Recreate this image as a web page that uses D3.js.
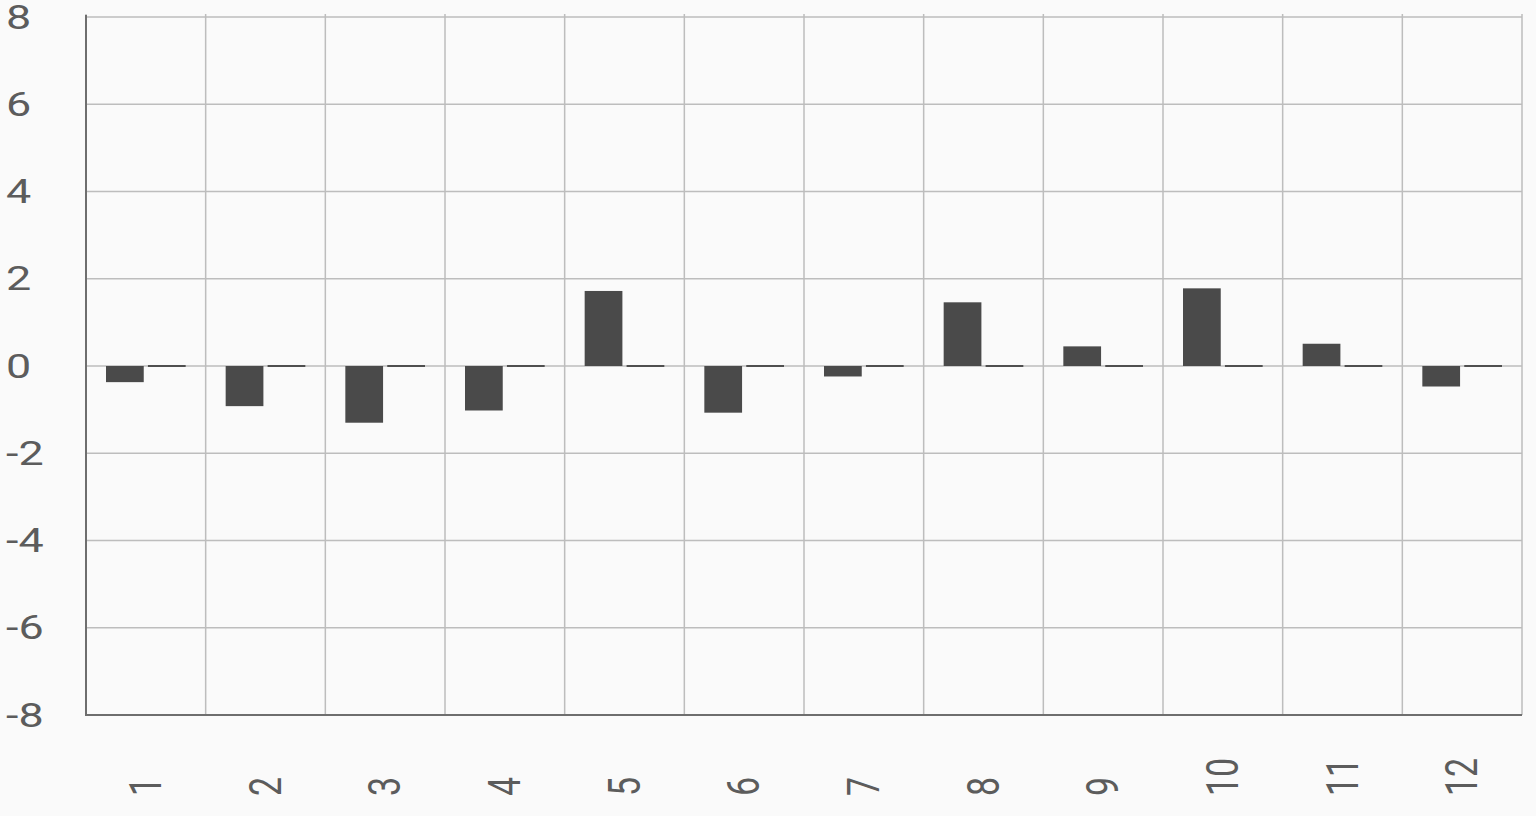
<!DOCTYPE html>
<html>
<head>
    <title>Bar chart</title>
    <script src="https://d3js.org/d3.v7.min.js"></script>
    <style>
        body { margin: 0; background: #fafafa; }
        svg { display: block; }
        text { font-family: Roboto, "DejaVu Sans", sans-serif; fill: #5c5c5c; }
    </style>
</head>
<body>
    <svg width="1536" height="816"></svg>

    <script>
    // values
    const categories = ["1", "2", "3", "4", "5", "6", "7", "8", "9", "10", "11", "12"];
    const seriesA = [-0.37, -0.92, -1.3, -1.02, 1.72, -1.07, -0.24, 1.46, 0.45, 1.78, 0.51, -0.47];
    const seriesB = [0, 0, 0, 0, 0, 0, 0, 0, 0, 0, 0, 0];
    const yTicks = [-8, -6, -4, -2, 0, 2, 4, 6, 8];

    const svg = d3.select("svg");
    const plotLeft = 86, plotRight = 1522, plotTop = 17, plotBottom = 715;
    const stretch = 1.32; // the text in the picture is wider than tall

    const x0 = d3.scaleBand().domain(categories).range([plotLeft, plotRight]).paddingInner(0).paddingOuter(0);
    const x1 = d3.scaleBand().domain(["a", "b"]).range([20, x0.bandwidth() - 20]).paddingInner(0.1);
    const y = d3.scaleLinear().domain([-8, 8]).range([plotBottom, plotTop]);

    // grid
    svg.append("g").selectAll("line")
        .data(yTicks)
        .enter().append("line")
        .attr("x1", plotLeft).attr("x2", plotRight)
        .attr("y1", d => y(d)).attr("y2", d => y(d))
        .attr("stroke", "#bdbdbd").attr("stroke-width", 1.5);

    const vlines = categories.map(c => x0(c)).concat([plotRight]);
    svg.append("g").selectAll("line")
        .data(vlines)
        .enter().append("line")
        .attr("x1", d => d).attr("x2", d => d)
        .attr("y1", plotTop - 3).attr("y2", plotBottom)
        .attr("stroke", "#bdbdbd").attr("stroke-width", 1.5);

    // bars (a zero bar still shows as a thin line)
    const minH = 2;
    const barY = v => v === 0 ? y(0) - minH / 2 : y(Math.max(0, v));
    const barH = v => Math.max(minH, Math.abs(y(v) - y(0)));

    const rows = categories.map((c, i) => ({ c, a: seriesA[i], b: seriesB[i] }));
    const groups = svg.append("g").selectAll("g")
        .data(rows)
        .enter().append("g")
        .attr("transform", d => `translate(${x0(d.c)},0)`);

    groups.append("rect")
        .attr("x", x1("a"))
        .attr("width", x1.bandwidth())
        .attr("y", d => barY(d.a))
        .attr("height", d => barH(d.a))
        .attr("fill", "#4a4a4a");

    groups.append("rect")
        .attr("x", x1("b"))
        .attr("width", x1.bandwidth())
        .attr("y", d => barY(d.b))
        .attr("height", d => barH(d.b))
        .attr("fill", "#4f4f4f");

    // axis lines
    svg.append("line")
        .attr("x1", plotLeft).attr("x2", plotLeft).attr("y1", plotTop - 2).attr("y2", plotBottom + 1)
        .attr("stroke", "#6e6e6e").attr("stroke-width", 2);
    svg.append("line")
        .attr("x1", plotLeft).attr("x2", plotRight).attr("y1", plotBottom).attr("y2", plotBottom)
        .attr("stroke", "#6e6e6e").attr("stroke-width", 2);

    // y labels
    svg.append("g").selectAll("text")
        .data(yTicks)
        .enter().append("text")
        .attr("transform", d => `translate(6,${y(d)}) scale(${stretch},1)`)
        .attr("dominant-baseline", "central")
        .style("font-size", "34px")
        .text(d => d);

    // x labels, rotated
    svg.append("g").selectAll("text")
        .data(categories)
        .enter().append("text")
        .attr("transform", d => `translate(${x0(d) + x0.bandwidth() / 2},796) scale(${stretch},1) rotate(-90)`)
        .attr("dominant-baseline", "central")
        .style("font-size", "34px")
        .text(d => d);
    </script>
</body>
</html>
